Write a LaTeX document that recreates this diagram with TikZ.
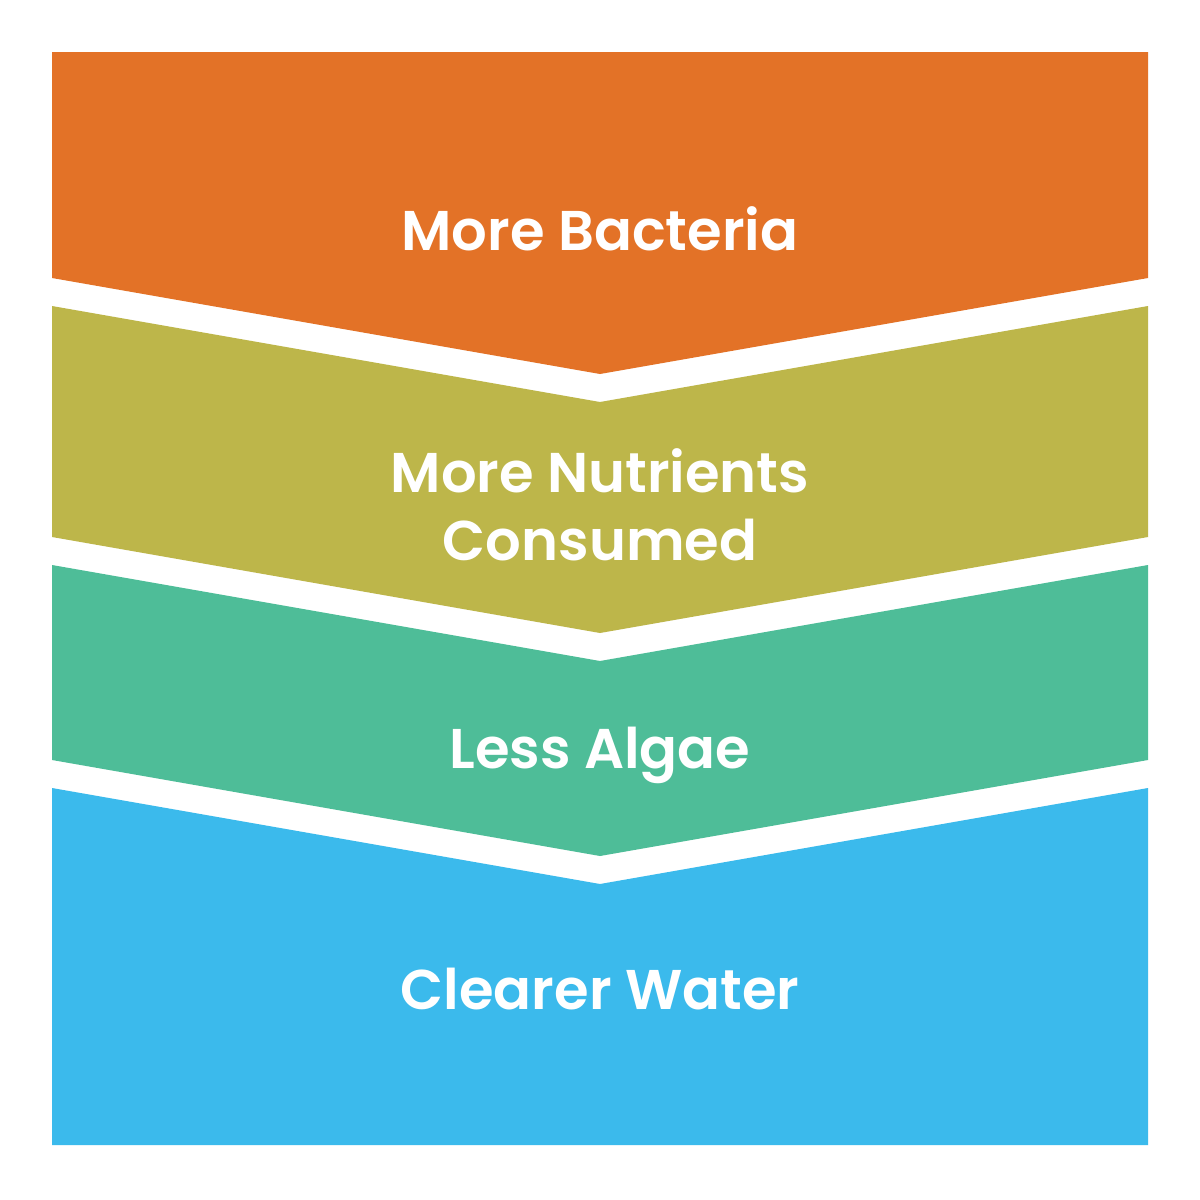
\documentclass[tikz,border=0pt]{standalone}
\usepackage{fontspec}
\setmainfont{Poppins}[BoldFont={Poppins SemiBold}]
\definecolor{cOrange}{HTML}{E37227}
\definecolor{cOlive}{HTML}{BDB64A}
\definecolor{cGreen}{HTML}{4EBD98}
\definecolor{cBlue}{HTML}{3BBAEC}
\begin{document}
\begin{tikzpicture}[x=1pt,y=-1pt,
  lbl/.style={text=white,font=\bfseries\fontsize{56}{66}\selectfont,anchor=base,inner sep=0pt}]
\useasboundingbox[fill=white] (0,0) rectangle (1200,1200);
\fill[cOrange] (52,52) -- (1148,52) -- (1148,278) -- (600,374) -- (52,278) -- cycle;
\fill[cOlive] (52,306) -- (600,402) -- (1148,306) -- (1148,537) -- (600,633) -- (52,537) -- cycle;
\fill[cGreen] (52,565) -- (600,661) -- (1148,565) -- (1148,760) -- (600,856) -- (52,760) -- cycle;
\fill[cBlue] (52,788) -- (600,884) -- (1148,788) -- (1148,1145) -- (52,1145) -- cycle;
\node[lbl] (t1) at (600,250) {More Bacteria};
\node[lbl] (t2) at (600,492) {More Nutrients};
\node[lbl] (t3) at (600,560) {Consumed};
\node[lbl] (t4) at (600,768) {Less Algae};
\node[lbl] (t5) at (600,1009) {Clearer Water};
\end{tikzpicture}
\end{document}
